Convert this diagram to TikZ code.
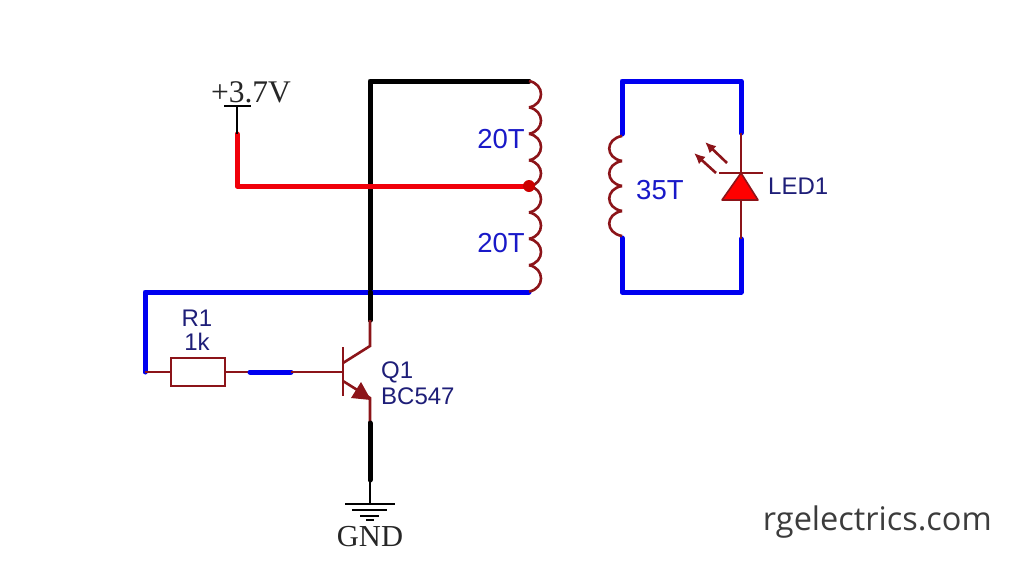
\documentclass[tikz,border=0pt]{standalone}
\usepackage{fontspec}
\setmainfont{Liberation Sans}
\newfontfamily\serifgnd{Liberation Serif}
\newfontfamily\markfont{Open Sans}
\usetikzlibrary{arrows.meta}
\definecolor{wireblue}{RGB}{0,0,240}
\definecolor{wirered}{RGB}{240,0,10}
\definecolor{partbrown}{RGB}{140,20,25}
\definecolor{refnavy}{RGB}{30,30,120}
\definecolor{turnblue}{RGB}{25,25,200}
\definecolor{markgrey}{RGB}{60,60,60}
\tikzset{
  bluewire/.style={draw=wireblue, line width=5pt, line join=round, line cap=round},
  redwire/.style={draw=wirered, line width=5pt, line join=round, line cap=round},
  blackwire/.style={draw=black, line width=5pt, line join=round, line cap=round},
  part/.style={draw=partbrown, line width=2.6pt},
  thinblack/.style={draw=black, line width=2.4pt},
  refname/.style={text=refnavy, font=\fontsize{24}{24}\selectfont, inner sep=0pt},
  turns/.style={text=turnblue, font=\fontsize{27.5}{27.5}\selectfont, inner sep=0pt},
  serifname/.style={text=black!85, inner sep=0pt}
}
\newcommand{\coilturn}[3]{\draw[part] (#1,#2) .. controls +(#3,3) and +(#3,-3) .. +(0,26.4);}
\begin{document}
\begin{tikzpicture}[x=1pt,y=-1pt]
\fill[white] (0,0) rectangle (1024,576);
\useasboundingbox (0,0) rectangle (1024,576);
% wire corners
\coordinate (cTopL) at (370,81);
\coordinate (cTopR) at (529,81);
\coordinate (cMid) at (529,186);
\coordinate (cBot) at (529,292);
\coordinate (cCross) at (370,292);
\coordinate (cColl) at (370,320);
\coordinate (cCollIn) at (370,346);
\coordinate (cEmit) at (370,398);
\coordinate (cEmitOut) at (370,423);
\coordinate (cGndWire) at (370,480);
\coordinate (cGnd) at (370,504);
\coordinate (cFb) at (145,292);
\coordinate (cFbEnd) at (145,372);
\coordinate (cBaseA) at (250,372);
\coordinate (cBaseB) at (291,372);
\coordinate (cBase) at (343,372);
\coordinate (cBattTop) at (237,106);
\coordinate (cBattWire) at (237,134);
\coordinate (cBattCorner) at (237,186);
\coordinate (cSecTL) at (622,81);
\coordinate (cSecTR) at (741,81);
\coordinate (cSecBL) at (622,292);
\coordinate (cSecBR) at (741,292);
\coordinate (cCoilA) at (622,134);
\coordinate (cCoilB) at (622,238);
\coordinate (cLedA) at (741,133);
\coordinate (cLedB) at (741,173);
\coordinate (cLedC) at (741,200);
\coordinate (cLedD) at (741,239);
% primary
\draw[blackwire] (cColl) -- (cTopL) -- (cTopR);
\draw[bluewire] (cFbEnd) -- (cFb) -- (cBot);
\draw[blackwire] (cCross) -- (cColl);
\draw[redwire] (cBattWire) -- (cBattCorner) -- (cMid);
\foreach \yy in {81,107.4,133.8,160.2,186,212.4,238.8,265.2} {\coilturn{529}{\yy}{16}}
\node[circle, fill=red!80!black, inner sep=0pt, minimum size=12pt] (nTap) at (cMid) {};
\node[turns] (tTop) at (501,139) {20T};
\node[turns] (tBot) at (501,243) {20T};
% supply
\draw[thinblack] (cBattTop) -- (cBattWire);
\draw[thinblack] (224,106) -- (251,106);
\node[serifname, font=\serifgnd\fontsize{31.5}{31.5}\selectfont] (tSupply) at (251,92) {+3.7V};
% resistor and base
\node[draw=partbrown, line width=2.6pt, fill=white, minimum width=54pt, minimum height=28pt, inner sep=0pt] (nR) at (198,372) {};
\draw[part] (cFbEnd) -- (nR);
\draw[part] (nR) -- (cBaseA);
\draw[bluewire] (cBaseA) -- (cBaseB);
\draw[part] (cBaseB) -- (cBase);
\node[refname] (tR) at (197,318) {R1};
\node[refname] (tRv) at (197,342) {1k};
% transistor
\draw[part] (343,347) -- (343,396);
\draw[part] (cColl) -- (cCollIn) -- (343,363);
\draw[part] (343,381) -- (cEmit) -- (cEmitOut);
\fill[partbrown] (371,400) -- (351,398) -- (361,382) -- cycle;
\draw[blackwire] (cEmitOut) -- (cGndWire);
\node[refname, anchor=west] (tQ) at (381,372) {Q1};
\node[refname, anchor=west] (tQv) at (381,396) {BC547};
% ground
\draw[thinblack] (cGndWire) -- (cGnd);
\draw[thinblack] (345,504) -- (395,504);
\draw[thinblack] (352,510) -- (387,510);
\draw[thinblack] (360,516) -- (379,516);
\draw[thinblack] (366,520) -- (374,520);
\node[serifname, font=\serifgnd\fontsize{30.5}{30.5}\selectfont] (tGnd) at (370,537) {GND};
% secondary
\draw[bluewire] (cCoilA) -- (cSecTL) -- (cSecTR) -- (cLedA);
\draw[bluewire] (cCoilB) -- (cSecBL) -- (cSecBR) -- (cLedD);
\foreach \yy in {136,161,186,211} {\draw[part] (622,\yy) .. controls +(-17,3) and +(-17,-3) .. +(0,25);}
\node[turns, anchor=west] (tSec) at (636,190) {35T};
% led
\draw[part] (cLedA) -- (cLedB);
\draw[part] (cLedC) -- (cLedD);
\draw[part] (719,173) -- (763,173);
\draw[draw=partbrown, fill=red, line width=1.6pt, line join=round] (cLedB) -- (722,200) -- (758,200) -- cycle;
\draw[part, -{Latex[length=11pt,width=10pt]}] (727,163) -- (705,142);
\draw[part, -{Latex[length=11pt,width=10pt]}] (716,173) -- (694,153);
\node[refname, anchor=west] (tLed) at (768,186) {LED1};
% site mark
\node[text=markgrey, font=\markfont\fontsize{32.5}{32.5}\selectfont, inner sep=0pt, anchor=east] (tMark) at (992,522) {rgelectrics.com};
\end{tikzpicture}
\end{document}
